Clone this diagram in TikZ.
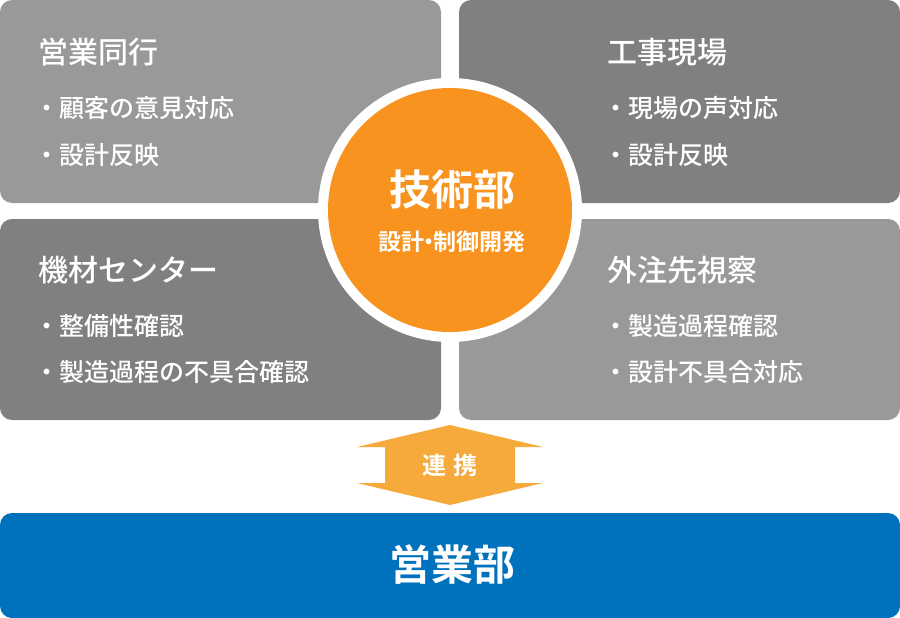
\documentclass[tikz,border=0pt]{standalone}
\usepackage{fontspec}
\newfontfamily\cjk{Noto Sans CJK JP Medium}
\newfontfamily\cjkb{Noto Sans CJK JP Bold}
\definecolor{lg}{HTML}{999999}
\definecolor{dg}{HTML}{808080}
\definecolor{org}{HTML}{F7931E}
\definecolor{lorg}{HTML}{F6AA3C}
\definecolor{blu}{HTML}{0071BC}
\tikzset{x=1pt,y=-1pt,
 panel/.style={rounded corners=12pt},
 ttl/.style={anchor=west,text=white,inner sep=0pt,font=\cjk\fontsize{30}{30}\selectfont},
 itm/.style={anchor=west,text=white,inner sep=0pt,font=\cjk\fontsize{25}{25}\selectfont}}
\begin{document}
\begin{tikzpicture}
\useasboundingbox (0,0) rectangle (900,618);
\fill[lg,panel] (0,0) rectangle (441,203);
\fill[dg,panel] (459,0) rectangle (900,203);
\fill[dg,panel] (0,219) rectangle (441,420);
\fill[lg,panel] (459,219) rectangle (900,420);
\node[ttl] (t1) at (38,52) {営業同行};
\node[itm] (a1) at (34,108) {・顧客の意見対応};
\node[itm] (a2) at (34,155) {・設計反映};
\node[ttl] (t2) at (607,52) {工事現場};
\node[itm] (b1) at (603,108) {・現場の声対応};
\node[itm] (b2) at (603,155) {・設計反映};
\node[ttl] (t3) at (38,270) {機材センター};
\node[itm] (c1) at (34,326) {・整備性確認};
\node[itm] (c2) at (34,372) {・製造過程の不具合確認};
\node[ttl] (t4) at (607,270) {外注先視察};
\node[itm] (d1) at (603,326) {・製造過程確認};
\node[itm] (d2) at (603,372) {・設計不具合対応};
\fill[white] (450,210) circle (132);
\fill[org] (450,210) circle (122);
\node[text=white,font=\cjkb\fontsize{42}{42}\selectfont] (g) at (452,190) {技術部};
\node[text=white,font=\cjkb\fontsize{23}{23}\selectfont] (gs) at (452,242) {設計{\kern-0.3em}・{\kern-0.3em}制御開発};
\fill[lorg] (357,447) -- (450,425) -- (543,447) -- (515,447) -- (515,483) -- (543,483) -- (450,505) -- (357,483) -- (385,483) -- (385,447) -- cycle;
\node[text=white,font=\cjkb\fontsize{24}{24}\selectfont] (r) at (450,465) {連\,\,携};
\fill[blu,panel] (0,513) rectangle (900,618);
\node[text=white,font=\cjkb\fontsize{42}{42}\selectfont] (e) at (452,565) {営業部};
\end{tikzpicture}
\end{document}
